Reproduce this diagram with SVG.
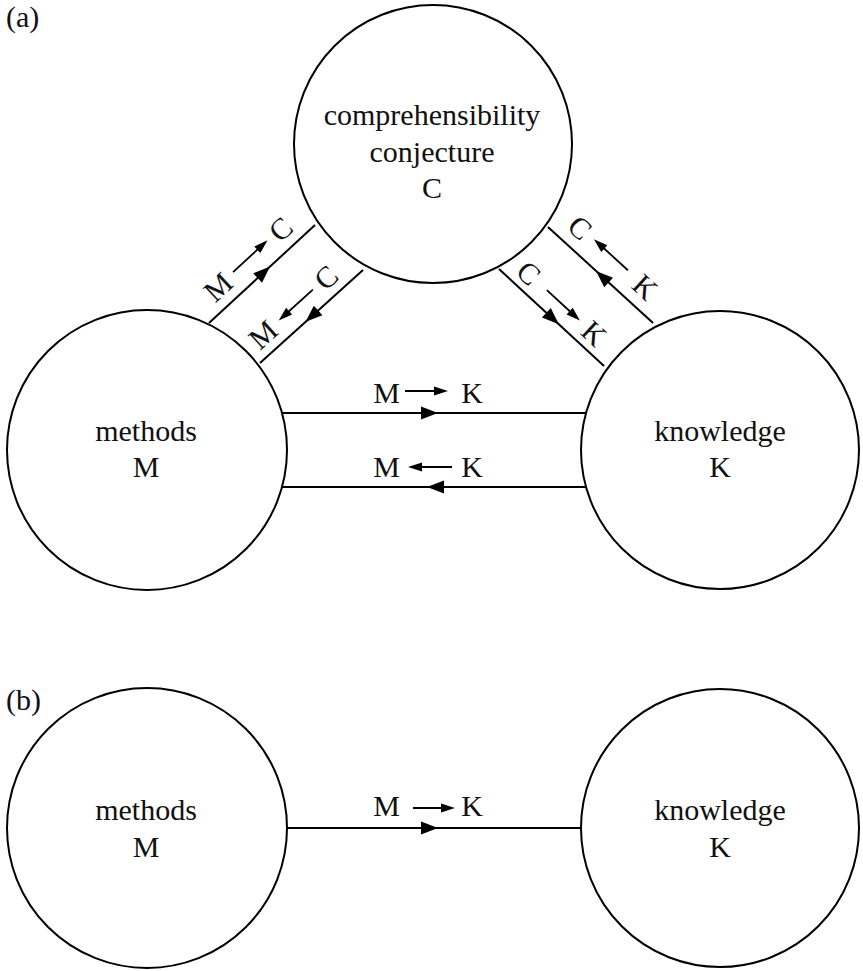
<svg xmlns="http://www.w3.org/2000/svg" width="863" height="971" viewBox="0 0 863 971">
<style>
.node{fill:#fff;stroke:#000;stroke-width:2}
.t{font-family:"Liberation Serif","Times New Roman",serif;font-size:30px;fill:#111;text-anchor:middle}
.lt{font-family:"Liberation Serif","Times New Roman",serif;font-size:30px;fill:#111}
.ln{stroke:#000;stroke-width:2;fill:none}
.sl{stroke:#000;stroke-width:1.8;fill:none}
.hd{fill:#000}
</style>
<defs>
<path id="bigR" d="M0,0 L-17,-6.5 L-17,6.5 Z"/>
<path id="bigL" d="M0,0 L17,-6.5 L17,6.5 Z"/>
<path id="smR" d="M0,0 L-14,-4.5 L-14,4.5 Z"/>
<path id="smL" d="M0,0 L14,-4.5 L14,4.5 Z"/>
</defs>
<rect width="863" height="971" fill="#fff"/>
<text class="lt" x="6" y="27">(a)</text>
<text class="lt" x="6" y="710">(b)</text>
<g id="connectors">
  <g id="edge-MC" transform="translate(262,274) rotate(-42.76)">
    <line class="ln" x1="-72.2" y1="0" x2="72.2" y2="0"/>
    <use href="#bigR" class="hd" x="11" y="0"/>
    <text class="t" x="-41" y="-10">M</text>
    <line class="sl" x1="-20" y1="-21" x2="18" y2="-21"/>
    <use href="#smR" class="hd" x="27" y="-21"/>
    <text class="t" x="44" y="-10">C</text>
  </g>
  <g id="edge-CM" transform="translate(311.5,316.5) rotate(-42.08)">
    <line class="ln" x1="-69.4" y1="0" x2="69.4" y2="0"/>
    <use href="#bigL" class="hd" x="-8" y="0"/>
    <text class="t" x="-48" y="-9">M</text>
    <line class="sl" x1="19" y1="-19" x2="-18" y2="-19"/>
    <use href="#smL" class="hd" x="-27" y="-19"/>
    <text class="t" x="37" y="-9">C</text>
  </g>
  <g id="edge-KC" transform="translate(600.5,275) rotate(42.44)">
    <line class="ln" x1="-71.2" y1="0" x2="71.2" y2="0"/>
    <use href="#bigL" class="hd" x="-6" y="0"/>
    <text class="t" x="-47" y="-11">C</text>
    <line class="sl" x1="17" y1="-22" x2="-20" y2="-22"/>
    <use href="#smL" class="hd" x="-29" y="-22"/>
    <text class="t" x="41" y="-11">K</text>
  </g>
  <g id="edge-CK" transform="translate(551.5,317.5) rotate(42.73)">
    <line class="ln" x1="-71.5" y1="0" x2="71.5" y2="0"/>
    <use href="#bigR" class="hd" x="10" y="0"/>
    <text class="t" x="-47" y="-7">C</text>
    <line class="sl" x1="-22" y1="-17" x2="14" y2="-17"/>
    <use href="#smR" class="hd" x="23" y="-17"/>
    <text class="t" x="42" y="-7">K</text>
  </g>
  <g id="edge-MK" transform="translate(434,413)">
    <line class="ln" x1="-152" y1="0" x2="152" y2="0"/>
    <use href="#bigR" class="hd" x="4" y="0"/>
    <text class="t" x="-47.5" y="-10">M</text>
    <line class="sl" x1="-29" y1="-22" x2="5" y2="-22"/>
    <use href="#smR" class="hd" x="14" y="-22"/>
    <text class="t" x="38" y="-10">K</text>
  </g>
  <g id="edge-KM" transform="translate(434,487)">
    <line class="ln" x1="-152" y1="0" x2="152" y2="0"/>
    <use href="#bigL" class="hd" x="-7" y="0"/>
    <text class="t" x="-47.5" y="-10">M</text>
    <line class="sl" x1="18" y1="-20" x2="-17" y2="-20"/>
    <use href="#smL" class="hd" x="-26" y="-20"/>
    <text class="t" x="38" y="-10">K</text>
  </g>
  <g id="edge-MK-b" transform="translate(434,828)">
    <line class="ln" x1="-147" y1="0" x2="147" y2="0"/>
    <use href="#bigR" class="hd" x="4" y="0"/>
    <text class="t" x="-47.5" y="-12">M</text>
    <line class="sl" x1="-21" y1="-20" x2="12" y2="-20"/>
    <use href="#smR" class="hd" x="21" y="-20"/>
    <text class="t" x="38" y="-12">K</text>
  </g>
</g>
<g id="node-C">
  <circle class="node" cx="433" cy="144" r="139"/>
  <text class="t" x="432" y="125">comprehensibility</text>
  <text class="t" x="432" y="162">conjecture</text>
  <text class="t" x="432" y="198">C</text>
</g>
<g id="node-M">
  <circle class="node" cx="147" cy="450" r="140"/>
  <text class="t" x="146" y="441">methods</text>
  <text class="t" x="146" y="477">M</text>
</g>
<g id="node-K">
  <circle class="node" cx="720" cy="450" r="139"/>
  <text class="t" x="720" y="441">knowledge</text>
  <text class="t" x="720" y="477">K</text>
</g>
<g id="node-M-b">
  <circle class="node" cx="147" cy="828" r="140"/>
  <text class="t" x="146" y="820">methods</text>
  <text class="t" x="146" y="857">M</text>
</g>
<g id="node-K-b">
  <circle class="node" cx="720" cy="828" r="139"/>
  <text class="t" x="720" y="820">knowledge</text>
  <text class="t" x="720" y="857">K</text>
</g>
</svg>
